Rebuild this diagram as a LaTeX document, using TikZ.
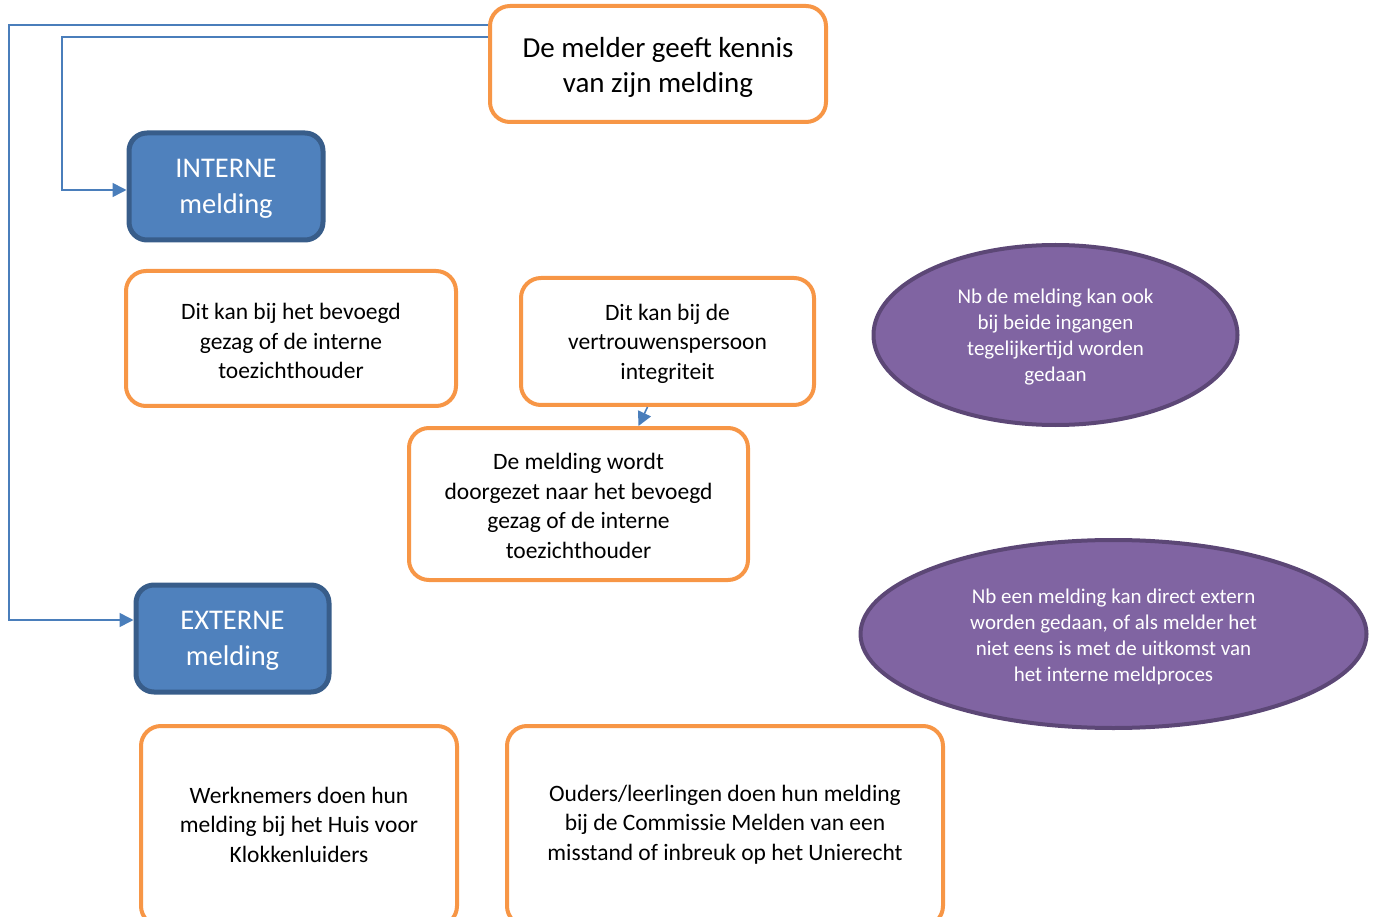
\documentclass[tikz,border=0pt]{standalone}
\usepackage{fontspec}
\setmainfont{Carlito}
\usetikzlibrary{arrows.meta,shapes.geometric}
\definecolor{orangeb}{HTML}{F79646}
\definecolor{bluef}{HTML}{4F81BD}
\definecolor{blueb}{HTML}{385D8A}
\definecolor{linec}{HTML}{4A7EBB}
\definecolor{purf}{HTML}{8064A2}
\definecolor{purb}{HTML}{5C4776}
\tikzset{
  obox/.style={draw=orangeb, line width=4pt, rounded corners=20pt, fill=white, align=center, inner sep=0pt},
  bbox/.style={draw=blueb, fill=bluef, line width=5pt, rounded corners=18pt, align=center, text=white, inner sep=0pt, font=\fontsize{28.5}{36}\selectfont},
  pell/.style={ellipse, draw=purb, fill=purf, line width=4pt, align=center, text=white, inner sep=0pt, font=\fontsize{21}{26}\selectfont},
  conn/.style={draw=linec, line width=1.6pt},
  arr/.style={conn, -{Triangle[length=14pt,width=14pt]}},
  small/.style={font=\fontsize{23.5}{29.5}\selectfont},
  txt/.style={align=center, inner sep=0pt}
}
\begin{document}
\begin{tikzpicture}[x=1pt,y=-1pt]
\useasboundingbox (0,0) rectangle (1377,917);
\begin{scope}
\clip (0,0) rectangle (1377,917);
\node[obox, minimum width=336, minimum height=116] (melder) at (658,64) {};
\node[txt, font=\fontsize{29}{35}\selectfont] at (658,67) {De melder geeft kennis\\van zijn melding};
\node[bbox, minimum width=194, minimum height=107] (intern) at (226,186.5) {};
\node[txt, text=white, font=\fontsize{28.5}{36}\selectfont] at (226,189) {INTERNE\\melding};
\node[obox, minimum width=330, minimum height=135] (bevoegd) at (291,338.5) {};
\node[txt, small] at (291,341) {Dit kan bij het bevoegd\\gezag of de interne\\toezichthouder};
\node[obox, minimum width=293, minimum height=127] (vertr) at (667.5,341.5) {};
\node[txt, small] at (667.5,343.5) {Dit kan bij de\\vertrouwenspersoon\\integriteit};
\node[obox, minimum width=339, minimum height=152] (door) at (578.5,504) {};
\node[txt, small] at (578.5,506) {De melding wordt\\doorgezet naar het bevoegd\\gezag of de interne\\toezichthouder};
\node[bbox, minimum width=193, minimum height=107] (extern) at (232.5,638.5) {};
\node[txt, text=white, font=\fontsize{28.5}{36}\selectfont] at (232.5,641) {EXTERNE\\melding};
\node[pell, minimum width=364, minimum height=180] (nb1) at (1055.5,335) {};
\node[txt, text=white, font=\fontsize{21}{26}\selectfont] at (1055.5,337.5) {Nb de melding kan ook\\bij beide ingangen\\tegelijkertijd worden\\gedaan};
\node[pell, minimum width=506, minimum height=188] (nb2) at (1113.5,634) {};
\node[txt, text=white, font=\fontsize{21}{26}\selectfont] at (1113.5,636.5) {Nb een melding kan direct extern\\worden gedaan, of als melder het\\niet eens is met de uitkomst van\\het interne meldproces};
\node[obox, minimum width=316, minimum height=200] (werk) at (299,826) {};
\node[txt, small] at (299,824.5) {Werknemers doen hun\\melding bij het Huis voor\\Klokkenluiders};
\node[obox, minimum width=436, minimum height=200] (ouders) at (725,826) {};
\node[txt, small] at (725,824.5) {Ouders/leerlingen doen hun melding\\bij de Commissie Melden van een\\misstand of inbreuk op het Unierecht};
\end{scope}
\coordinate (c1) at (9,25);
\coordinate (c2) at (62,37);
\coordinate (ie) at ([yshift=-3.5pt]intern.west);
\coordinate (ee) at ([yshift=18.5pt]extern.west);
\draw[arr] (melder.west |- c1) -- (c1) -- (c1 |- ee) -- (ee);
\draw[arr] (melder.west |- c2) -- (c2) -- (c2 |- ie) -- (ie);
\draw[arr] ([xshift=-20pt]vertr.south) -- ([xshift=60pt]door.north);
\end{tikzpicture}
\end{document}
